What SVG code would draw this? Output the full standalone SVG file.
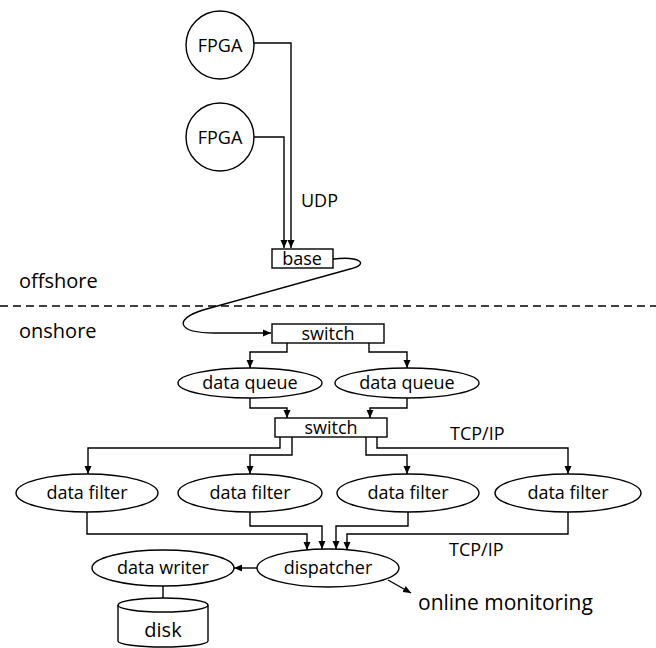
<svg xmlns="http://www.w3.org/2000/svg" width="656" height="648" viewBox="0 0 656 648">
<style>
.s{fill:#fff;stroke:#000;stroke-width:1.4}
.c{fill:none;stroke:#000;stroke-width:1.4}
.t{font-family:"Open Sans","Liberation Sans",sans-serif;font-size:18px;fill:#000;text-anchor:middle}
.l{font-family:"Open Sans","Liberation Sans",sans-serif;font-size:18px;fill:#000}
</style>
<defs>
<marker id="a" markerWidth="9" markerHeight="8" refX="8" refY="4" orient="auto" markerUnits="userSpaceOnUse">
<path d="M0,0.5 L8,4 L0,7.5 z" fill="#000"/>
</marker>
</defs>
<rect width="656" height="648" fill="#fff"/>
<line x1="0" y1="306" x2="656" y2="306" stroke="#000" stroke-width="1.4" stroke-dasharray="8,5"/>
<text class="l" x="19" y="288" style="font-size:20px">offshore</text>
<text class="l" x="19" y="338" style="font-size:20px">onshore</text>
<text class="l" x="301" y="207">UDP</text>
<text class="l" x="450" y="440">TCP/IP</text>
<text class="l" x="449" y="556">TCP/IP</text>
<text class="l" x="418" y="610" style="font-size:21px">online monitoring</text>
<g id="connectors">
<path class="c" d="M254,43 H291 V248" marker-end="url(#a)"/>
<path class="c" d="M254,137 H284 V248" marker-end="url(#a)"/>
<path class="c" d="M333,259 C360,256 370,264 350,269 L203,310 C174,319 176,333 215,333 L271,333" marker-end="url(#a)"/>
<path class="c" d="M287,343 V352 H250 V368" marker-end="url(#a)"/>
<path class="c" d="M369,343 V352 H407 V368" marker-end="url(#a)"/>
<path class="c" d="M250,398 V408 H287 V418" marker-end="url(#a)"/>
<path class="c" d="M407,398 V408 H370 V418" marker-end="url(#a)"/>
<path class="c" d="M280,437 V448 H88 V474" marker-end="url(#a)"/>
<path class="c" d="M292,437 V455 H250 V474" marker-end="url(#a)"/>
<path class="c" d="M366,437 V455 H407 V474" marker-end="url(#a)"/>
<path class="c" d="M377,437 V448 H568 V474" marker-end="url(#a)"/>
<path class="c" d="M87,512 V534 H307 V550" marker-end="url(#a)"/>
<path class="c" d="M250,512 V526 H322 V549" marker-end="url(#a)"/>
<path class="c" d="M408,512 V526 H336 V549" marker-end="url(#a)"/>
<path class="c" d="M568,512 V534 H347 V550" marker-end="url(#a)"/>
<path class="c" d="M257,568 H234" marker-end="url(#a)"/>
<path class="c" d="M163,586 V607" marker-end="url(#a)"/>
<path class="c" d="M388,580 L411,593" marker-end="url(#a)"/>
</g>
<g id="fpga1"><circle class="s" cx="220" cy="45" r="34"/><text class="t" x="220" y="52">FPGA</text></g>
<g id="fpga2"><circle class="s" cx="220" cy="137" r="34"/><text class="t" x="220" y="144">FPGA</text></g>
<g id="base"><rect class="s" x="272" y="249" width="61" height="19"/><text class="t" x="302" y="265">base</text></g>
<g id="switch1"><rect class="s" x="272" y="324" width="112" height="19"/><text class="t" x="328" y="340">switch</text></g>
<g id="queue1"><ellipse class="s" cx="250" cy="383" rx="72" ry="15"/><text class="t" x="250" y="389">data queue</text></g>
<g id="queue2"><ellipse class="s" cx="407" cy="383" rx="72" ry="15"/><text class="t" x="407" y="389">data queue</text></g>
<g id="switch2"><rect class="s" x="275" y="418" width="112" height="19"/><text class="t" x="331" y="434">switch</text></g>
<g id="filter1"><ellipse class="s" cx="87" cy="493" rx="71" ry="19"/><text class="t" x="87" y="499">data filter</text></g>
<g id="filter2"><ellipse class="s" cx="250" cy="493" rx="72" ry="19"/><text class="t" x="250" y="499">data filter</text></g>
<g id="filter3"><ellipse class="s" cx="408" cy="493" rx="71" ry="19"/><text class="t" x="408" y="499">data filter</text></g>
<g id="filter4"><ellipse class="s" cx="568" cy="493" rx="73" ry="19"/><text class="t" x="568" y="499">data filter</text></g>
<g id="dispatcher"><ellipse class="s" cx="328" cy="568" rx="71" ry="19"/><text class="t" x="328" y="574">dispatcher</text></g>
<g id="writer"><ellipse class="s" cx="163" cy="568" rx="71" ry="18"/><text class="t" x="163" y="574">data writer</text></g>
<g id="disk">
<path class="s" d="M118,605 V641 A45,6 0 0 0 208,641 V605"/>
<ellipse class="s" cx="163" cy="605" rx="45" ry="7"/>
<text class="t" x="163" y="637" style="font-size:20px">disk</text>
</g>
</svg>
